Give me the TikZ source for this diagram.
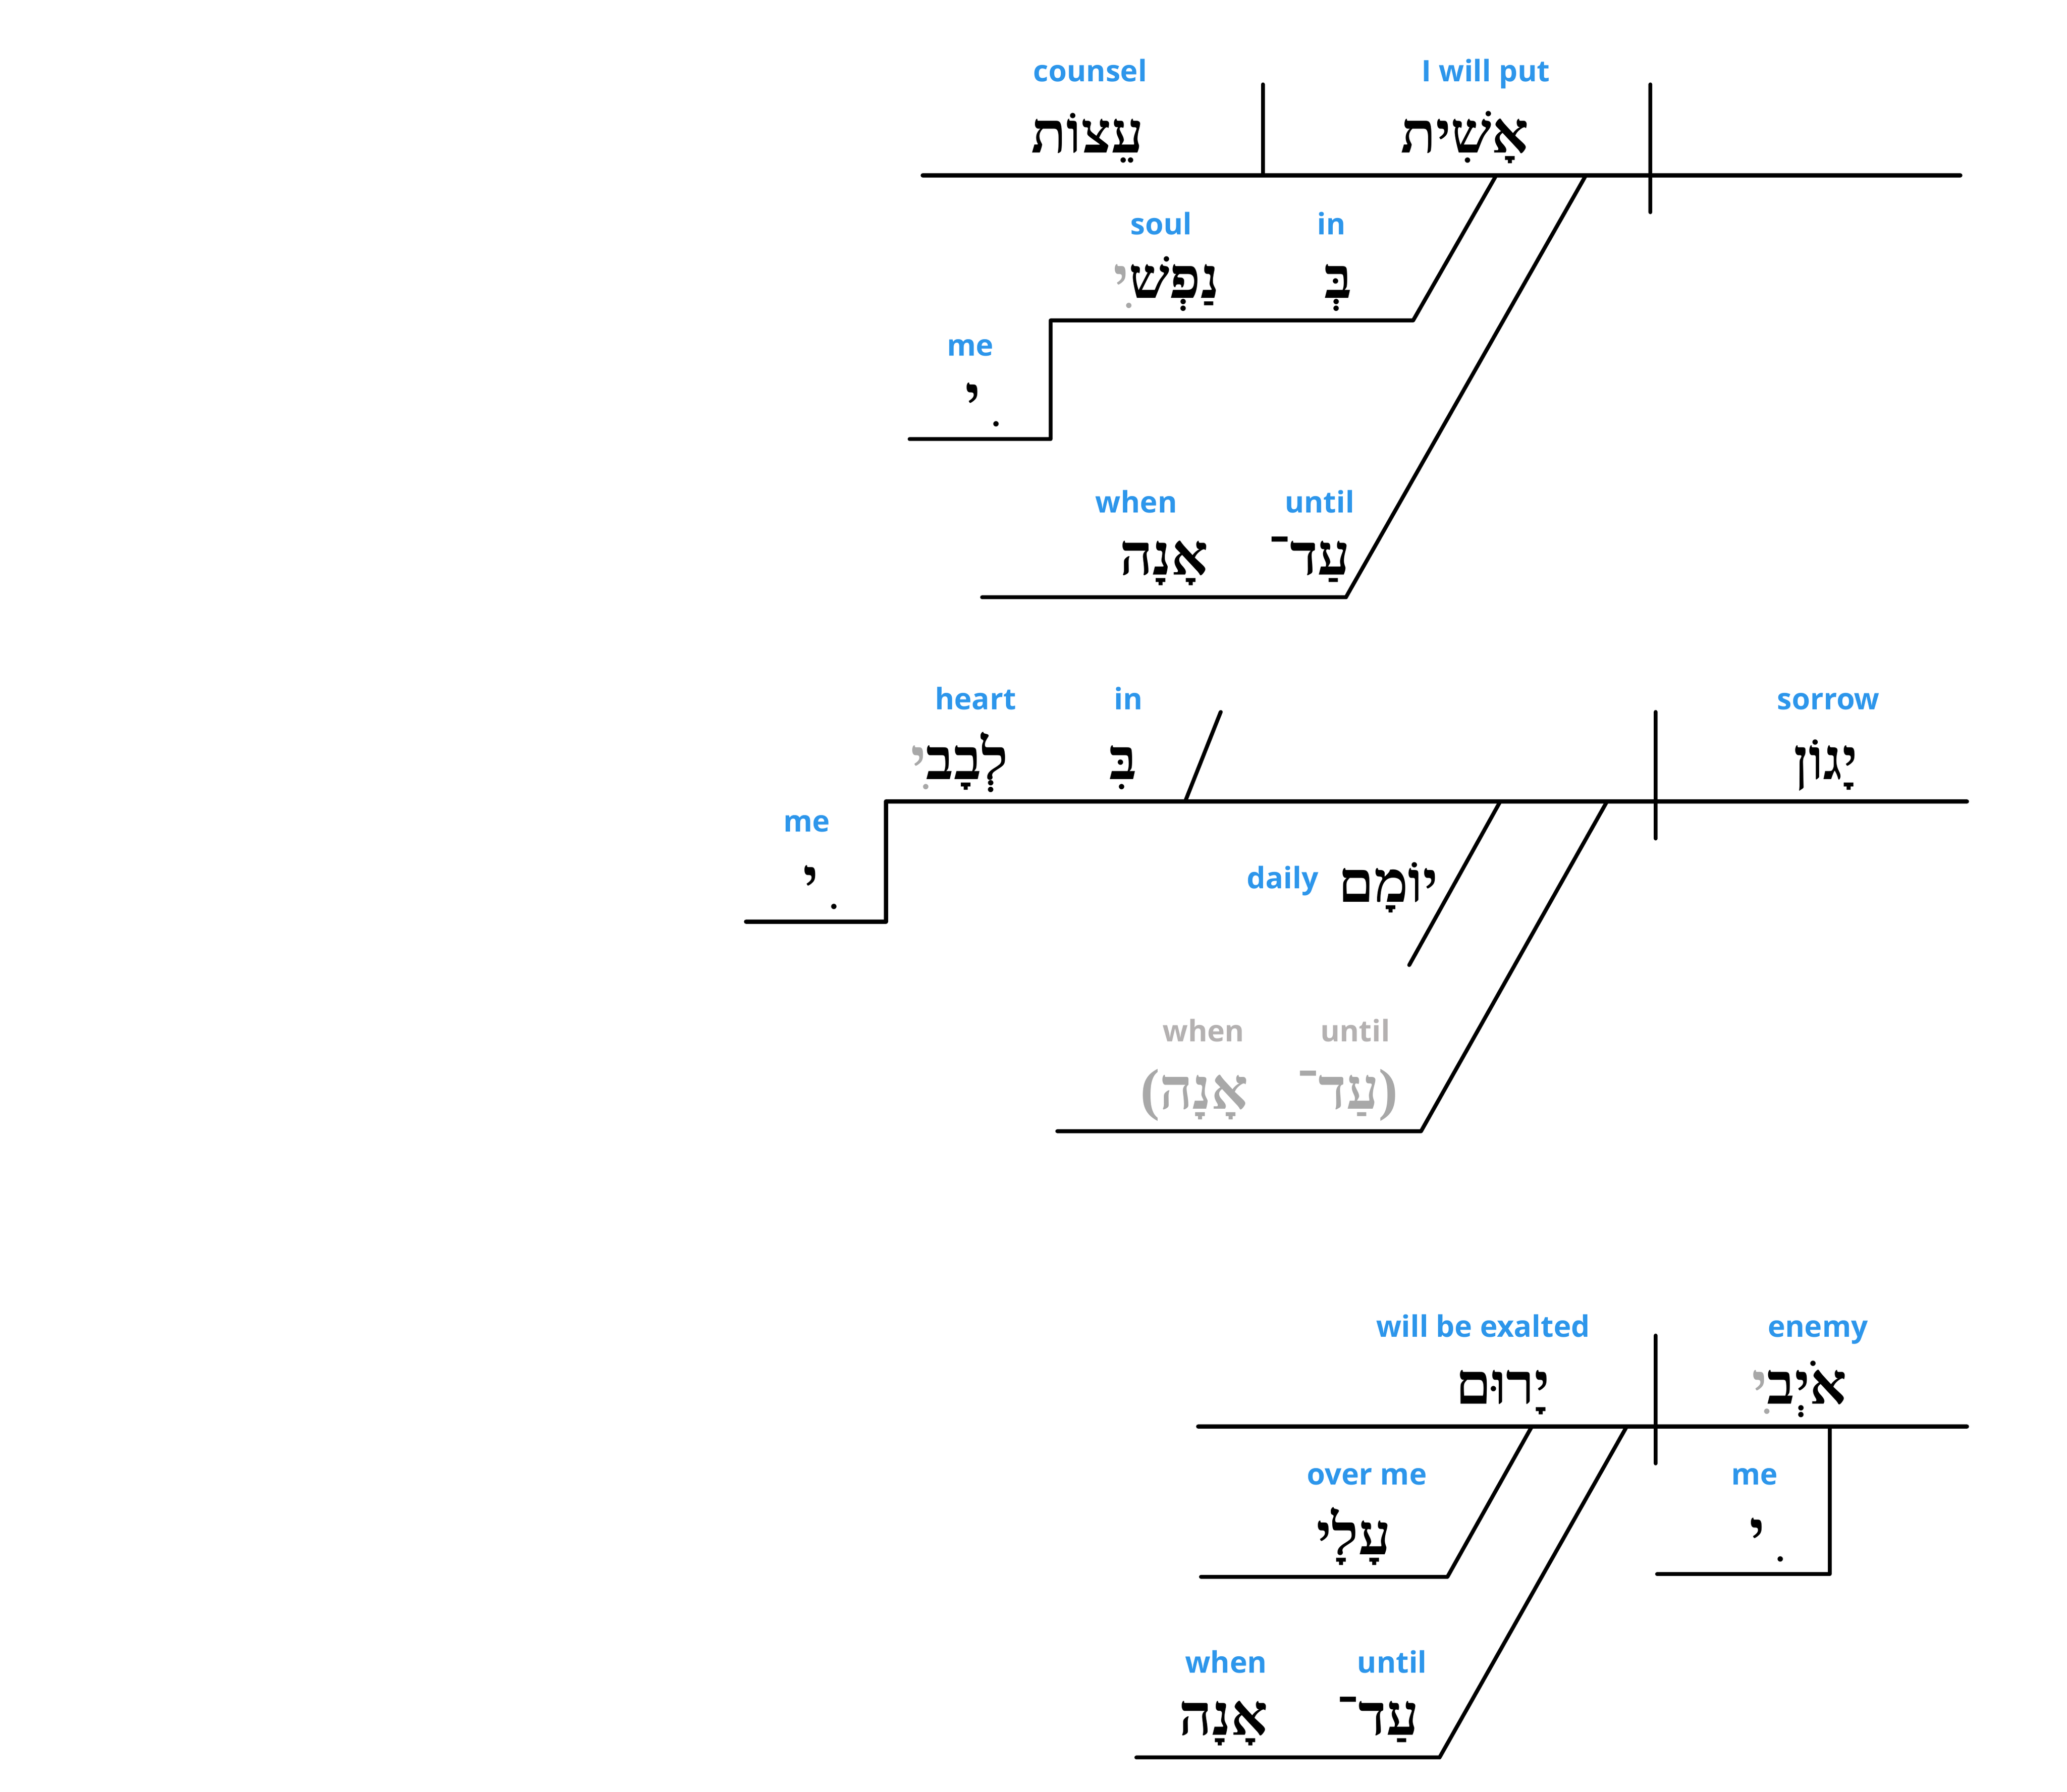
\documentclass[tikz,border=0pt]{standalone}
\usepackage{fontspec}
\TeXXeTstate=1
\newfontfamily\hebfont[Script=Hebrew]{Liberation Serif}
\newfontfamily\glossfont{Open Sans}
\definecolor{glossblue}{RGB}{45,150,235}
\definecolor{glossgray}{RGB}{180,177,177}
\definecolor{hebgray}{RGB}{168,168,168}
\tikzset{>=latex}
\tikzset{
  gloss/.style={anchor=base,inner sep=0pt,text=glossblue,font=\glossfont\bfseries\fontsize{17.5}{21}\selectfont},
  heb/.style={anchor=base,inner sep=0pt,font=\hebfont\bfseries\fontsize{34}{40}\selectfont},
  mainline/.style={line width=2.6pt,line join=round,line cap=round},
  modline/.style={line width=2.3pt,line join=round,line cap=round}
}
\def\suffix{\textcolor{hebgray}{ִי}}
\def\lonesuffix{י\kern0.28em ִ}

\begin{document}
\begin{tikzpicture}[x=0.027398cm,y=-0.027398cm]
  \useasboundingbox (0,0) rectangle (1568,1359.2);
  % first clause: base line, divider and bar
  \coordinate (a-left) at (700,133);
  \coordinate (a-right) at (1487,133);
  \coordinate (a-div) at (958,133);
  \coordinate (a-divtop) at (958,64);
  \coordinate (a-bartop) at (1252,64);
  \coordinate (a-barbot) at (1252,161);
  \draw[mainline] (a-left) -- (a-right);
  \draw[modline] (a-divtop) -- (a-div);
  \draw[modline] (a-bartop) -- (a-barbot);
  % in my soul, with the suffix on a step
  \coordinate (a-in) at (1135,133);
  \coordinate (a-inbot) at (1072,243);
  \coordinate (a-step) at (797,243);
  \coordinate (a-stepbot) at (797,333);
  \coordinate (a-me) at (690,333);
  \draw[modline] (a-in) -- (a-inbot) -- (a-step) -- (a-stepbot) -- (a-me);
  % until when
  \coordinate (a-until) at (1203,133);
  \coordinate (a-untilbot) at (1021,453);
  \coordinate (a-when) at (745,453);
  \draw[modline] (a-until) -- (a-untilbot) -- (a-when);

  % second clause
  \coordinate (b-me) at (566,699);
  \coordinate (b-stepbot) at (672,699);
  \coordinate (b-left) at (672,608);
  \coordinate (b-right) at (1492,608);
  \draw[mainline] (b-me) -- (b-stepbot) -- (b-left) -- (b-right);
  \coordinate (b-bartop) at (1256,540);
  \coordinate (b-barbot) at (1256,636);
  \draw[modline] (b-bartop) -- (b-barbot);
  % in my heart
  \coordinate (b-in) at (899,608);
  \coordinate (b-intop) at (926,540);
  \draw[modline] (b-in) -- (b-intop);
  % daily
  \coordinate (b-daily) at (1138,608);
  \coordinate (b-dailybot) at (1069,732);
  \draw[modline] (b-daily) -- (b-dailybot);
  % (until when)
  \coordinate (b-until) at (1219,608);
  \coordinate (b-untilbot) at (1078,858);
  \coordinate (b-when) at (802,858);
  \draw[modline] (b-until) -- (b-untilbot) -- (b-when);

  % third clause
  \coordinate (c-left) at (909,1082);
  \coordinate (c-right) at (1492,1082);
  \draw[mainline] (c-left) -- (c-right);
  \coordinate (c-bartop) at (1256,1013);
  \coordinate (c-barbot) at (1256,1110);
  \draw[modline] (c-bartop) -- (c-barbot);
  % my enemy
  \coordinate (c-my) at (1388,1082);
  \coordinate (c-mybot) at (1388,1194);
  \coordinate (c-me) at (1257,1194);
  \draw[modline] (c-my) -- (c-mybot) -- (c-me);
  % over me
  \coordinate (c-over) at (1162,1082);
  \coordinate (c-overbot) at (1098,1196);
  \coordinate (c-overend) at (911,1196);
  \draw[modline] (c-over) -- (c-overbot) -- (c-overend);
  % until when
  \coordinate (c-until) at (1234,1082);
  \coordinate (c-untilbot) at (1092,1333);
  \coordinate (c-when) at (862,1333);
  \draw[modline] (c-until) -- (c-untilbot) -- (c-when);

  % glosses
  \foreach \n/\x/\y/\t in {counsel/827/62/counsel, put/1127/62/I will put,
      soul/881/178/soul, in1/1010/178/in, me1/736/270/me,
      until1/1001/389/until, when1/862/389/when,
      heart/740/538/heart, in2/856/538/in, sorrow/1387/538/sorrow,
      me2/612/631/me, daily/973/674/daily,
      exalted/1125/1014/will be exalted, enemy/1379/1014/enemy,
      overme/1037/1126/over me, me3/1331/1126/me,
      until3/1056/1269/until, when3/930/1269/when}
    \node[gloss] (gl-\n) at (\x,\y) {\t};
  \node[gloss,text=glossgray] (gl-until2) at (1028,790) {until};
  \node[gloss,text=glossgray] (gl-when2) at (913,790) {when};

  % hebrew words
  \node[heb] (w-counsel) at (825,116) {עֵצוֹת};
  \node[heb] (w-put) at (1111,116) {אָשִׁית};
  \node[heb] (w-soul) at (885,226) {\suffix נַפְשׁ};
  \node[heb] (w-in1) at (1015,226) {בְּ};
  \node[heb] (w-me1) at (744,316) {\lonesuffix};
  \node[heb] (w-until1) at (993,436) {עַד־};
  \node[heb] (w-when1) at (883,436) {אָנָה};
  \node[heb] (w-heart) at (728,591) {\suffix לְבָב};
  \node[heb] (w-in2) at (852,591) {בִּ};
  \node[heb] (w-sorrow) at (1385,591) {יָגוֹן};
  \node[heb] (w-me2) at (621,682) {\lonesuffix};
  \node[heb] (w-daily) at (1053,684) {יוֹמָם};
  \node[heb,text=hebgray] (w-until2) at (1022,841) {(עַד־};
  \node[heb,text=hebgray] (w-when2) at (906,841) {אָנָה)};
  \node[heb] (w-exalted) at (1140,1065) {יָרוּם};
  \node[heb] (w-enemy) at (1365,1065) {\suffix אֹיְב};
  \node[heb] (w-overme) at (1027,1179) {עָלָי};
  \node[heb] (w-me3) at (1339,1177) {\lonesuffix};
  \node[heb] (w-until3) at (1045,1316) {עַד־};
  \node[heb] (w-when3) at (928,1316) {אָנָה};
\end{tikzpicture}
\end{document}
